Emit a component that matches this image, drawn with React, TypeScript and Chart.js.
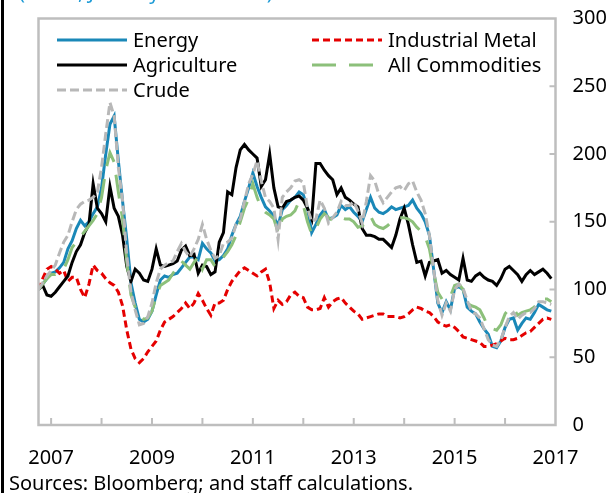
import { useEffect, useRef } from "react";
import { Chart, registerables } from "chart.js";
Chart.register(...registerables);

// Monthly data, January 2007 = index 0
const startYear = 2007;
const months: string[] = Array.from({ length: 123 }, (_, i) => `${startYear + Math.floor(i / 12)}-${String((i % 12) + 1).padStart(2, "0")}`);
const tickLabels = ["2007", "2008", "2009", "2010", "2011", "2012", "2013", "2014", "2015", "2016", "2017"];
const shownTickLabels = ["2007", "2009", "2011", "2013", "2015", "2017"];
const yTicks = [0, 50, 100, 150, 200, 250, 300];

const energy = [
  100, 104, 108, 112, 113, 116, 120, 130, 136, 145,
  151, 147, 150, 156, 161, 175, 200, 222, 228, 195,
  165, 137, 105, 90, 78, 76, 78, 84, 96, 107,
  110, 109, 111, 112, 116, 120, 124, 124, 122, 134,
  130, 127, 121, 122, 125, 130, 140, 148, 154, 165,
  175, 186, 176, 168, 161, 158, 154, 147, 159, 162,
  166, 168, 172, 170, 160, 142, 148, 155, 159, 152,
  153, 155, 162, 159, 161, 157, 154, 150, 159, 168,
  160, 157, 156, 158, 161, 159, 160, 161, 162, 166,
  160, 156, 150, 140, 115, 90, 83, 91, 85, 101,
  102, 100, 87, 84, 82, 76, 71, 67, 58, 57,
  62, 72, 78, 79, 70, 75, 79, 78, 83, 89,
  87, 85, 84,
];
const crude = [
  100, 105, 110, 114, 118, 127, 135, 140, 150, 159,
  163, 165, 166, 168, 172, 190, 215, 238, 228, 190,
  166, 125, 98, 85, 74, 75, 80, 90, 105, 115,
  118, 120, 121, 128, 134, 128, 124, 130, 137, 148,
  137, 129, 123, 125, 134, 135, 138, 148, 152, 165,
  178, 185, 195, 180, 168, 165, 160, 137, 168, 172,
  175, 180, 181, 179, 160, 150, 152, 166, 160, 149,
  153, 157, 165, 162, 162, 165, 158, 149, 165, 184,
  180, 170, 164, 168, 172, 175, 176, 173, 178, 180,
  172, 166, 156, 140, 115, 92, 81, 90, 84, 100,
  104, 101, 92, 84, 82, 79, 71, 63, 59, 58,
  63, 72, 80, 83, 78, 81, 83, 83, 86, 91,
  91, 90, 89,
];
const allCommodities = [
  100, 104, 108, 111, 111, 112, 115, 122, 131, 135,
  139, 143, 147, 151, 156, 168, 188, 201, 194, 172,
  152, 120, 96, 87, 80, 78, 79, 84, 95, 103,
  105, 107, 112, 116, 121, 118, 115, 120, 124, 115,
  122, 122, 117, 120, 124, 128, 133, 140, 150, 160,
  167, 178, 168, 160, 157, 155, 152, 142, 152, 154,
  155, 158, 165, 162, 150, 141, 145, 152, 156, 153,
  151, 153, 153, 152, 152, 150, 146, 147, 149, 154,
  148, 146, 145, 147, 150, 152, 153, 153, 152, 150,
  146, 143, 139, 130, 113, 98, 93, 92, 95, 103,
  104, 100, 90, 88, 87, 85, 79, 72, 71, 70,
  74, 82, 86, 86, 81, 83, 84, 85, 87, 92,
  93, 93, 91,
];
const agriculture = [
  100, 103, 96, 95, 98, 102, 106, 110, 120, 128,
  133, 142, 148, 178, 160, 156, 150, 176, 160, 154,
  140, 117, 106, 115, 112, 107, 106, 115, 130, 118,
  117, 118, 119, 121, 129, 132, 125, 126, 112, 118,
  117, 111, 113, 135, 142, 172, 170, 190, 203, 207,
  203, 200, 197, 176, 181, 200, 175, 161, 160, 165,
  166, 168, 169, 166, 160, 152, 193, 193, 188, 184,
  181, 170, 175, 168, 166, 163, 161, 145, 140, 140,
  139, 137, 137, 134, 131, 140, 152, 160, 148, 133,
  120, 121, 110, 120, 121, 122, 112, 114, 111, 109,
  107, 123, 107, 106, 110, 112, 109, 107, 106, 103,
  108, 115, 117, 114, 111, 106, 111, 114, 111, 113,
  115, 112, 108,
];
const industrialMetal = [
  100, 108, 115, 117, 115, 112, 114, 106, 109, 109,
  100, 94, 104, 118, 114, 112, 108, 105, 103, 98,
  88, 70, 56, 49, 46, 49, 54, 58, 62, 70,
  76, 78, 80, 83, 86, 90, 86, 90, 97, 92,
  86, 81, 90, 90, 92, 100, 106, 110, 114, 116,
  114, 112, 110, 113, 115, 105, 86, 92, 89, 91,
  96, 98, 95, 94, 87, 85, 85, 86, 94, 87,
  91, 93, 94, 90, 87, 84, 82, 78, 79, 80,
  81, 82, 82, 80, 80, 80, 79, 80, 82, 85,
  87, 86, 84, 83, 80, 76, 74, 73, 74, 72,
  69, 65, 64, 63, 62, 61, 58, 58, 59, 60,
  62, 64, 63, 63, 64, 66, 68, 69, 72, 75,
  78, 79, 78,
];

const FONT = '"Noto Sans", sans-serif';
const TICK_OFFSET = 3; // month index of each year tick mark

const toPoints = (arr: number[]) => arr.map((v, i) => ({ x: i, y: v, m: months[i] }));

type Series = { label: string; data: number[]; color: string; dash: number[]; order: number; col: number; row: number };
const seriesList: Series[] = [
  { label: "Energy", data: energy, color: "#1A88B8", dash: [], order: 5, col: 0, row: 0 },
  { label: "Industrial Metal", data: industrialMetal, color: "#E50000", dash: [7, 4], order: 4, col: 1, row: 0 },
  { label: "Agriculture", data: agriculture, color: "#000000", dash: [], order: 3, col: 0, row: 1 },
  { label: "All Commodities", data: allCommodities, color: "#8CC07A", dash: [24, 13], order: 2, col: 1, row: 1 },
  { label: "Crude", data: crude, color: "#B8B8B8", dash: [9, 4], order: 1, col: 0, row: 2 },
];

const decor = {
  id: "decor",
  beforeDraw(chart: any) {
    const { ctx } = chart;
    ctx.save();
    ctx.fillStyle = "#fff";
    ctx.fillRect(0, 0, chart.width, chart.height);
    ctx.restore();
  },
  afterDatasetsDraw(chart: any) {
    const { ctx, chartArea: a, scales } = chart;
    ctx.save();
    // frame
    ctx.strokeStyle = "#BEBEBE";
    ctx.lineWidth = 2.5;
    ctx.strokeRect(a.left, a.top, a.right - a.left, a.bottom - a.top);
    ctx.lineWidth = 2;
    ctx.beginPath();
    yTicks.slice(1, -1).forEach((v) => {
      const y = scales.y.getPixelForValue(v);
      ctx.moveTo(a.right - 6, y);
      ctx.lineTo(a.right, y);
    });
    tickLabels.slice(0, -1).forEach((_, k) => {
      const x = scales.x.getPixelForValue(TICK_OFFSET + 12 * k);
      ctx.moveTo(x, a.bottom - 7);
      ctx.lineTo(x, a.bottom);
    });
    ctx.stroke();

    // legend
    ctx.font = `20px ${FONT}`;
    ctx.textBaseline = "middle";
    ctx.textAlign = "left";
    const colX = [[57, 127, 133], [312, 382, 388]];
    const rowY = [40, 65, 90];
    seriesList.forEach((s) => {
      const [x0, x1, tx] = colX[s.col];
      const y = rowY[s.row];
      ctx.strokeStyle = s.color;
      ctx.lineWidth = 3;
      ctx.setLineDash(s.dash);
      ctx.beginPath();
      ctx.moveTo(x0, y);
      ctx.lineTo(x1, y);
      ctx.stroke();
      ctx.setLineDash([]);
      ctx.fillStyle = "#000";
      ctx.fillText(s.label, tx, y + 1);
    });

    // cut-off subtitle, source note, left rule
    ctx.textBaseline = "alphabetic";
    ctx.fillStyle = "#1B9AD6";
    ctx.fillText("(Index, January 2007 = 100)", 19, -1);
    ctx.fillStyle = "#000";
    ctx.fillText("Sources: Bloomberg; and staff calculations.", 9, 490);
    ctx.fillRect(1, 0, 3, chart.height);
    ctx.restore();
  },
};

export default function App() {
  const ref = useRef<HTMLCanvasElement>(null);
  useEffect(() => {
    document.body.style.margin = "0";
    const chart = new Chart(ref.current!, {
      type: "line",
      data: {
        datasets: seriesList.map((s) => ({
          label: s.label,
          data: toPoints(s.data),
          borderColor: s.color,
          backgroundColor: s.color,
          borderDash: s.dash,
          borderWidth: 3,
          pointRadius: 0,
          tension: 0,
          order: s.order,
        })),
      },
      options: {
        animation: false,
        responsive: false,
        parsing: { xAxisKey: "x", yAxisKey: "y" },
        layout: { padding: { left: 38.5, top: 18.5, right: 0, bottom: 0 } },
        plugins: { legend: { display: false }, tooltip: { enabled: false } },
        scales: {
          x: {
            type: "linear",
            min: 0,
            max: 123,
            grid: { display: false, drawTicks: false },
            border: { display: false },
            afterBuildTicks: (scale: any) => {
              scale.ticks = shownTickLabels.map((_, k) => ({ value: TICK_OFFSET + 24 * k }));
            },
            afterFit: (scale: any) => {
              scale.height = 68;
              scale.paddingLeft = 0;
              scale.paddingRight = 0;
            },
            ticks: {
              autoSkip: false,
              maxRotation: 0,
              padding: 21,
              color: "#000",
              font: { family: FONT, size: 20 },
              callback: (v: any) => shownTickLabels[Math.round((Number(v) - TICK_OFFSET) / 24)] ?? "",
            },
          },
          y: {
            position: "right",
            min: 0,
            max: 300,
            grid: { display: false, drawTicks: false },
            border: { display: false },
            afterBuildTicks: (scale: any) => {
              scale.ticks = yTicks.map((v) => ({ value: v }));
            },
            afterFit: (scale: any) => {
              scale.width = 51.5;
              scale.paddingTop = 0;
              scale.paddingBottom = 0;
            },
            ticks: {
              padding: 17,
              color: "#000",
              font: { family: FONT, size: 20 },
            },
          },
        },
      },
      plugins: [decor],
    });
    return () => chart.destroy();
  }, []);
  return (
    <div style={{ width: 607, height: 493 }}>
      <canvas ref={ref} width={607} height={493} style={{ display: "block" }} />
    </div>
  );
}
